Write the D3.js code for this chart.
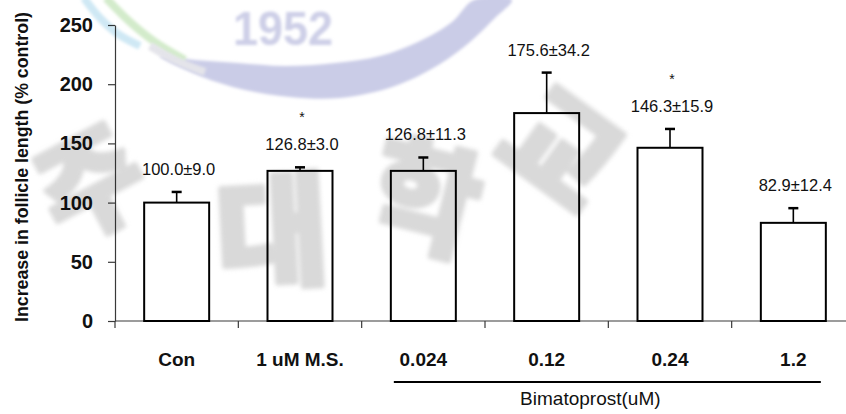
<!DOCTYPE html>
<html>
<head>
<meta charset="utf-8">
<script src="https://cdn.jsdelivr.net/npm/d3@7/dist/d3.min.js"></script>
<style>
  html, body { margin: 0; padding: 0; background: #fff; }
  svg { display: block; }
</style>
</head>
<body>
<svg id="chart" width="846" height="414"></svg>
<script>
// Follicle length data (% of control), mean ± error
const categories = ["Con", "1 uM M.S.", "0.024", "0.12", "0.24", "1.2"];
const means = [100.0, 126.8, 126.8, 175.6, 146.3, 82.9];
const errors = [9.0, 3.0, 11.3, 34.2, 15.9, 12.4];
const significant = [false, true, false, false, true, false];
const yTicks = [0, 50, 100, 150, 200, 250];
const yTitle = "Increase in follicle length (% control)";
const groupName = "Bimatoprost(uM)";
const groupMembers = ["0.024", "0.12", "0.24", "1.2"];

// Institutional watermark pieces
const sealYear = "1952";
const sealGlyphs = ["주", "대", "학", "교"];

const FONT = "'Liberation Sans', Arial, Helvetica, sans-serif";
const W = 846, H = 414;
const plot = { left: 115, top: 25, bottom: 321, right: 855 };

const svg = d3.select("#chart");

const x = d3.scaleBand().domain(categories).range([plot.left, plot.right]).padding(0);
const y = d3.scaleLinear().domain([0, 250]).range([plot.bottom, plot.top]);
const barW = x.bandwidth() * 0.527;
const cx = d => x(d) + x.bandwidth() / 2;

const rows = categories.map((c, i) => ({ c, m: means[i], e: errors[i], sig: significant[i] }));

// ---- Y axis ----
const yAxis = svg.append("g")
  .attr("transform", `translate(${plot.left},0)`)
  .call(d3.axisLeft(y).tickValues(yTicks).tickSize(7).tickSizeOuter(0).tickPadding(15));
yAxis.select(".domain").attr("stroke", "#3a3a3a").attr("stroke-width", 1.2);
yAxis.selectAll(".tick line").attr("stroke", "#3a3a3a").attr("stroke-width", 1.2);
yAxis.selectAll(".tick text")
  .attr("font-family", FONT).attr("font-weight", "bold").attr("font-size", 20)
  .attr("fill", "#111");

// ---- X axis: baseline with ticks at category boundaries ----
const xAxis = svg.append("g");
xAxis.append("line")
  .attr("x1", plot.left).attr("x2", W)
  .attr("y1", y(0)).attr("y2", y(0))
  .attr("stroke", "#3a3a3a").attr("stroke-width", 1.2);
xAxis.selectAll("line.bound")
  .data(categories)
  .join("line").attr("class", "bound")
  .attr("x1", d => x(d)).attr("x2", d => x(d))
  .attr("y1", y(0)).attr("y2", y(0) + 7)
  .attr("stroke", "#3a3a3a").attr("stroke-width", 1.2);
xAxis.selectAll("text.cat")
  .data(categories)
  .join("text").attr("class", "cat")
  .attr("x", d => cx(d)).attr("y", y(0) + 45)
  .attr("text-anchor", "middle")
  .attr("font-family", FONT).attr("font-weight", "bold").attr("font-size", 19)
  .attr("fill", "#111")
  .text(d => d);

// ---- Bars ----
svg.append("g").selectAll("rect")
  .data(rows)
  .join("rect")
  .attr("x", d => cx(d.c) - barW / 2)
  .attr("y", d => y(d.m))
  .attr("width", barW)
  .attr("height", d => y(0) - y(d.m))
  .attr("fill", "#fff")
  .attr("stroke", "#000")
  .attr("stroke-width", 2);

// ---- Error bars (upper only) ----
const eb = svg.append("g");
eb.selectAll("line.stem")
  .data(rows)
  .join("line").attr("class", "stem")
  .attr("x1", d => cx(d.c)).attr("x2", d => cx(d.c))
  .attr("y1", d => y(d.m)).attr("y2", d => y(d.m + d.e))
  .attr("stroke", "#000").attr("stroke-width", 1.6);
eb.selectAll("line.cap")
  .data(rows)
  .join("line").attr("class", "cap")
  .attr("x1", d => cx(d.c) - 5).attr("x2", d => cx(d.c) + 5)
  .attr("y1", d => y(d.m + d.e)).attr("y2", d => y(d.m + d.e))
  .attr("stroke", "#000").attr("stroke-width", 2.5);

// ---- Value labels ----
const fmt = d3.format(".1f");
svg.append("g").selectAll("text")
  .data(rows)
  .join("text")
  .attr("x", d => cx(d.c) + 2)
  .attr("y", d => y(d.m + d.e) - 17)
  .attr("text-anchor", "middle")
  .attr("font-family", FONT).attr("font-size", 16.5)
  .attr("fill", "#111")
  .text(d => `${fmt(d.m)}±${fmt(d.e)}`);

// ---- Significance marks ----
svg.append("g").selectAll("text")
  .data(rows.filter(d => d.sig))
  .join("text")
  .attr("x", d => cx(d.c) + 2)
  .attr("y", d => y(d.m + d.e) - 17 - 28)
  .attr("text-anchor", "middle")
  .attr("font-family", FONT).attr("font-size", 14)
  .attr("fill", "#111")
  .text("*");

// ---- Group bracket ----
const gx1 = cx(groupMembers[0]) - barW / 2 + 3;
const gx2 = cx(groupMembers[groupMembers.length - 1]) + barW / 2 - 5;
svg.append("line")
  .attr("x1", gx1).attr("x2", gx2)
  .attr("y1", y(0) + 61).attr("y2", y(0) + 61)
  .attr("stroke", "#000").attr("stroke-width", 2);
svg.append("text")
  .attr("x", (gx1 + gx2) / 2 - 17).attr("y", y(0) + 84)
  .attr("text-anchor", "middle")
  .attr("font-family", FONT).attr("font-size", 19)
  .attr("fill", "#111")
  .text(groupName);

// ---- Y title ----
svg.append("text")
  .attr("transform", `translate(28,167) rotate(-90)`)
  .attr("text-anchor", "middle")
  .attr("font-family", FONT).attr("font-weight", "bold").attr("font-size", 18.5)
  .attr("textLength", 310).attr("lengthAdjust", "spacingAndGlyphs")
  .attr("fill", "#111")
  .text(yTitle);

// ---- Watermark (drawn over the chart, multiplied) ----
const defs = svg.append("defs");
defs.append("filter").attr("id", "soft").attr("x", "-20%").attr("y", "-20%")
  .attr("width", "140%").attr("height", "140%")
  .append("feGaussianBlur").attr("stdDeviation", 2.2);
defs.append("filter").attr("id", "softer").attr("x", "-20%").attr("y", "-20%")
  .attr("width", "140%").attr("height", "140%")
  .append("feGaussianBlur").attr("stdDeviation", 1.5);

const wm = svg.append("g").style("mix-blend-mode", "multiply").attr("pointer-events", "none");

// Seal ribbons
const ribbon = d3.line().curve(d3.curveCatmullRomClosed);
const lavenderBand = [[160, 56], [200, 76], [245, 90], [290, 97], [340, 98], [395, 86], [440, 64],
  [470, 42], [495, 18], [512, 0], [474, 0], [452, 22], [418, 42], [380, 56], [335, 63],
  [285, 66], [238, 63], [195, 60]];
wm.append("path").attr("d", ribbon(lavenderBand))
  .attr("fill", "#cacce7").attr("filter", "url(#softer)");
const arcLine = d3.line().curve(d3.curveCatmullRom);
wm.append("path").attr("d", arcLine([[106, -2], [130, 22], [155, 42], [185, 60]]))
  .attr("fill", "none").attr("stroke", "#d3ebcb").attr("stroke-width", 8).attr("filter", "url(#softer)");
wm.append("path").attr("d", arcLine([[84, -2], [100, 18], [118, 34], [140, 46]]))
  .attr("fill", "none").attr("stroke", "#cfe8f4").attr("stroke-width", 8).attr("filter", "url(#softer)");
wm.append("path").attr("d", arcLine([[150, 46], [175, 60], [205, 72]]))
  .attr("fill", "none").attr("stroke", "#e4e4ea").attr("stroke-width", 8).attr("filter", "url(#softer)");

wm.append("text")
  .attr("x", 283).attr("y", 45)
  .attr("text-anchor", "middle")
  .attr("font-family", FONT).attr("font-weight", "bold").attr("font-size", 48)
  .attr("textLength", 100).attr("lengthAdjust", "spacingAndGlyphs")
  .attr("fill", "#cdcfe7").attr("filter", "url(#softer)")
  .text(sealYear);

// Seal lettering around the lower arc
const glyphPos = [
  { cx: 92, cy: 185, r: -28, s: 112 },
  { cx: 272, cy: 232, r: -3, s: 122 },
  { cx: 425, cy: 200, r: 14, s: 118 },
  { cx: 560, cy: 150, r: 36, s: 120 }
];
wm.selectAll("text.glyph")
  .data(sealGlyphs)
  .join("text").attr("class", "glyph")
  .attr("transform", (d, i) => `translate(${glyphPos[i].cx},${glyphPos[i].cy}) rotate(${glyphPos[i].r})`)
  .attr("text-anchor", "middle")
  .attr("dy", "0.36em")
  .attr("font-family", "'Noto Sans CJK KR', sans-serif")
  .attr("font-weight", 900)
  .attr("font-size", (d, i) => glyphPos[i].s)
  .attr("fill", "#d9d9d9")
  .attr("stroke", "#d9d9d9")
  .attr("stroke-width", 5)
  .attr("stroke-linejoin", "round")
  .attr("filter", "url(#soft)")
  .text(d => d);
</script>
</body>
</html>
